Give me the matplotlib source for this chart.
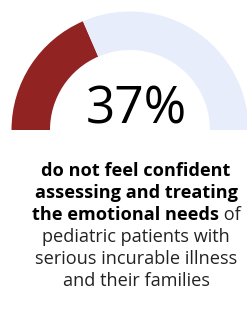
import matplotlib
matplotlib.use("Agg")
import matplotlib.pyplot as plt
from matplotlib.patches import Wedge

percent = 37
value_label = "37%"
bold_lines = ["do not feel confident", "assessing and treating", "the emotional needs"]
regular_tail = " of"
regular_lines = ["pediatric patients with", "serious incurable illness", "and their families"]

RED = "#922323"
LIGHT = "#E8EDFC"

W, H = 247, 315
fig = plt.figure(figsize=(W / 100, H / 100), dpi=100)
ax = fig.add_axes([0, 0, 1, 1])
ax.set_xlim(0, W)
ax.set_ylim(0, H)
ax.axis("off")

cx, cy = 130, H - 130
r_out, ring = 118.5, 38.5
split = 180 - 180 * percent / 100
ax.add_patch(Wedge((cx, cy), r_out, split, 180, width=ring, facecolor=RED, edgecolor="none"))
ax.add_patch(Wedge((cx, cy), r_out, 0, split, width=ring, facecolor=LIGHT, edgecolor="none"))

ax.text(136, H - 124, value_label, ha="center", va="baseline", fontsize=37,
        family="Open Sans", color="black")

fs = 13.1
tcx = 136
base0 = H - 176.5
step = 22
fig.canvas.draw()
renderer = fig.canvas.get_renderer()

def width_of(t):
    return t.get_window_extent(renderer).width

for i in range(2):
    ax.text(tcx, base0 - i * step, bold_lines[i], ha="center", va="baseline", fontsize=fs,
            family="Open Sans", fontweight="bold", color="black")

tb = ax.text(0, base0 - 2 * step, bold_lines[2], ha="left", va="baseline", fontsize=fs,
             family="Open Sans", fontweight="bold", color="black")
tr = ax.text(0, base0 - 2 * step, regular_tail, ha="left", va="baseline", fontsize=fs,
             family="Open Sans", color="#222222")
wb = width_of(tb)
wr = width_of(tr)
x0 = tcx - (wb + wr) / 2
tb.set_x(x0)
tr.set_x(x0 + wb)

for j, line in enumerate(regular_lines):
    ax.text(tcx, base0 - (3 + j) * step, line, ha="center", va="baseline", fontsize=fs,
            family="Open Sans", color="#222222")

fig.savefig("out.png", dpi=100, facecolor="white")
